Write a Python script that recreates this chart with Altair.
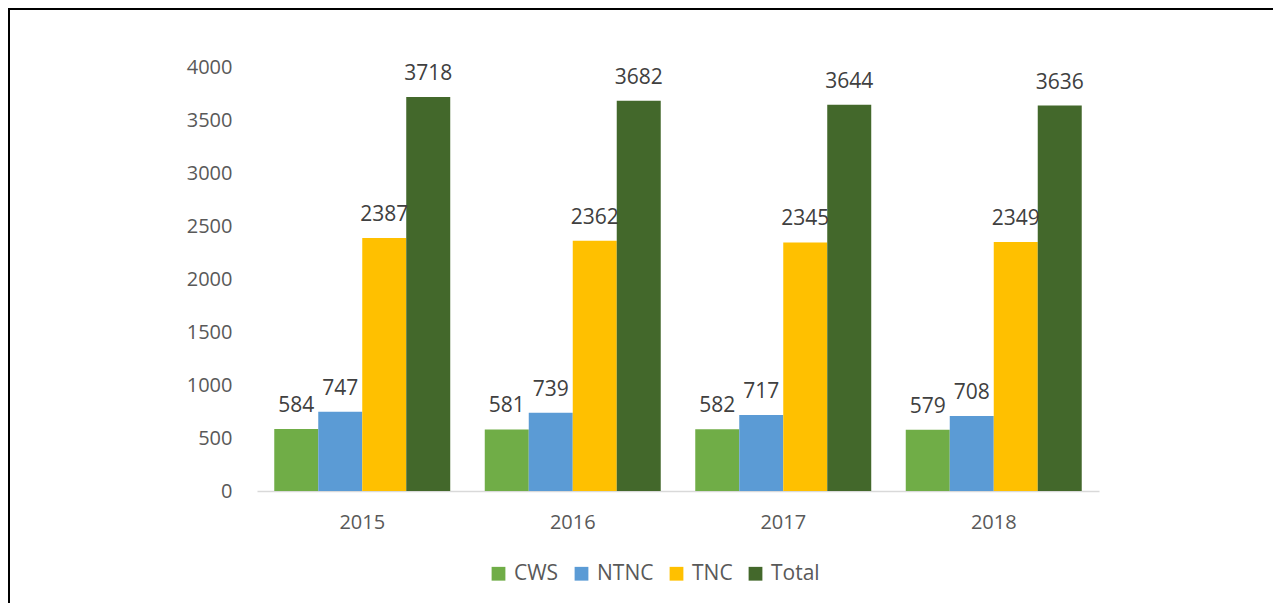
import altair as alt
import pandas as pd

years = ["2015", "2016", "2017", "2018"]
series = ["CWS", "NTNC", "TNC", "Total"]
cws = [584, 581, 582, 579]
ntnc = [747, 739, 717, 708]
tnc = [2387, 2362, 2345, 2349]
total = [3718, 3682, 3644, 3636]
colors = ["#70AD47", "#5B9BD5", "#FFC000", "#43682B"]

rows = []
for i, y in enumerate(years):
    for s, vals in zip(series, [cws, ntnc, tnc, total]):
        rows.append({"year": y, "series": s, "value": vals[i]})
df = pd.DataFrame(rows)

FONT = "Open Sans"
W, H = 842, 424
PL, PT, PR, PB = 249, 59, 174, 112

xscale = alt.Scale(paddingInner=0.164, paddingOuter=0.082)
base = alt.Chart(df).encode(
    x=alt.X("year:N", sort=years, scale=xscale,
            axis=alt.Axis(title=None, labelAngle=0, ticks=False, domainColor="#D9D9D9",
                          domainWidth=1.5, labelColor="#595959", labelFontSize=20,
                          labelFont=FONT, labelPadding=21)),
    xOffset=alt.XOffset("series:N", sort=series),
)

bars = base.mark_bar().encode(
    y=alt.Y("value:Q", scale=alt.Scale(domain=[0, 4000]),
            axis=alt.Axis(title=None, values=list(range(0, 4001, 500)), grid=False,
                          format="d", domain=False, ticks=False, labelColor="#595959",
                          labelFontSize=20, labelFont=FONT, labelPadding=25)),
    color=alt.Color("series:N", sort=series,
                    scale=alt.Scale(domain=series, range=colors),
                    legend=alt.Legend(title=None, orient="none", direction="horizontal",
                                      legendX=231, legendY=496, symbolType="square",
                                      symbolSize=190, symbolStrokeWidth=0,
                                      labelFontSize=21, labelFont=FONT,
                                      labelColor="#595959", labelOffset=5,
                                      columnPadding=12)),
)

labels = base.mark_text(baseline="alphabetic", dy=-17, fontSize=21, font=FONT,
                        color="#404040").encode(
    y=alt.Y("value:Q"),
    text=alt.Text("value:Q"),
)

frame = alt.Data(values=[{"k": 1}])
top_line = alt.Chart(frame).mark_rule(color="black", strokeWidth=2).encode(
    x=alt.value(-PL), x2=alt.value(W + PR), y=alt.value(-PT + 1))
left_line = alt.Chart(frame).mark_rule(color="black", strokeWidth=2).encode(
    x=alt.value(-PL + 1), y=alt.value(-PT), y2=alt.value(H + PB))

chart = alt.layer(bars, labels, top_line, left_line).properties(
    width=W, height=H,
    autosize=alt.AutoSizeParams(type="none"),
    padding={"left": PL, "top": PT, "right": PR, "bottom": PB},
).configure_view(stroke=None)

chart.save("out.html", embed_options={"renderer": "svg", "actions": False})
